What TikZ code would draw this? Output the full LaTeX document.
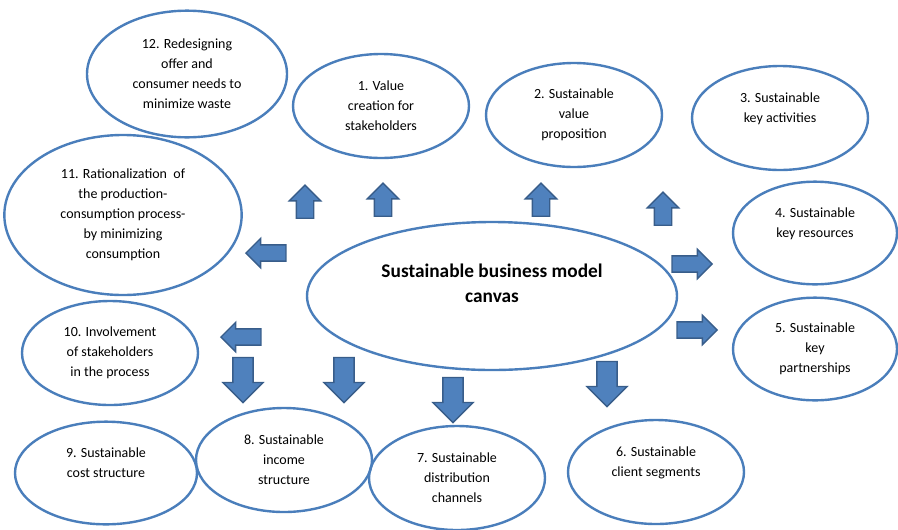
\documentclass[tikz,border=0pt]{standalone}
\usepackage{fontspec}
\setmainfont{Carlito}
\usetikzlibrary{shapes.geometric, shapes.arrows}
\definecolor{ringblue}{HTML}{4A7EBB}
\definecolor{arrowfill}{HTML}{4F81BD}
\definecolor{arrowline}{HTML}{385D8A}

\begin{document}
\begin{tikzpicture}[
    x=0.75pt, y=-0.75pt,
    bubble/.style={ellipse, draw=ringblue, line width=1.8pt, inner sep=0pt, align=center,
      minimum width=132pt, minimum height=78pt, font=\fontsize{10.5}{15}\selectfont},
    blockarrow/.style={single arrow, draw=arrowline, fill=arrowfill, line width=1pt},
    uparrow/.style={blockarrow, rotate=90, inner sep=6pt, single arrow head extend=5.25pt, minimum height=24.75pt},
    downarrow/.style={blockarrow, rotate=-90, inner sep=7.1pt, single arrow head extend=7.5pt, minimum height=33.75pt},
    sidearrow/.style={blockarrow, inner sep=5.6pt, single arrow head extend=4.9pt, minimum height=30pt}
]
  \useasboundingbox (0,0) rectangle (898,529);

  % central ellipse
  \node[bubble, minimum width=277.5pt, minimum height=111pt, font=\bfseries\fontsize{14.5}{19}\selectfont]
    (canvas) at (492,296) {Sustainable business model\\canvas\\\mbox{}};

  % the twelve elements
  \node[bubble] (e1) at (381,106) {1. Value\\creation for\\stakeholders};
  \node[bubble] (e2) at (574,115) {2. Sustainable\\value\\proposition};
  \node[bubble] (e3) at (780,118) {3. Sustainable\\key activities\\\mbox{}};
  \node[bubble, minimum width=123pt, minimum height=77pt] (e4) at (815,233) {4. Sustainable\\key resources\\\mbox{}};
  \node[bubble, minimum width=123pt, minimum height=77pt] (e5) at (815,349) {5. Sustainable\\key\\partnerships};
  \node[bubble] (e6) at (656,472) {6. Sustainable\\client segments\\\mbox{}};
  \node[bubble] (e7) at (457,478) {7. Sustainable\\distribution\\channels};
  \node[bubble] (e8) at (284,460) {8. Sustainable\\income\\structure};
  \node[bubble, minimum width=136.5pt, minimum height=77pt] (e9) at (106,473) {9. Sustainable\\cost structure\\\mbox{}};
  \node[bubble] (e10) at (110,353) {10. Involvement\\of stakeholders\\in the process};
  \node[bubble, minimum width=178pt, minimum height=120pt] (e11) at (123,215)
    {11. Rationalization\ \ of\\the production-\\consumption process-\\by minimizing\\consumption};
  \node[bubble, minimum width=150pt, minimum height=95pt] (e12) at (187,74)
    {12. Redesigning\\offer and\\consumer needs to\\minimize waste};

  % block arrows around the canvas
  \node[uparrow] (up1) at (305,206) {};
  \node[uparrow] (up2) at (383,204) {};
  \node[uparrow] (up3) at (541,204) {};
  \node[uparrow] (up4) at (663,213) {};
  \node[sidearrow] (right1) at (688,264) {};
  \node[sidearrow] (right2) at (693,330) {};
  \node[sidearrow, rotate=180] (left1) at (270,253) {};
  \node[sidearrow, rotate=180] (left2) at (245,337) {};
  \node[downarrow] (down1) at (243,375) {};
  \node[downarrow] (down2) at (344,375) {};
  \node[downarrow] (down3) at (453,395) {};
  \node[downarrow] (down4) at (607,379) {};
\end{tikzpicture}
\end{document}
